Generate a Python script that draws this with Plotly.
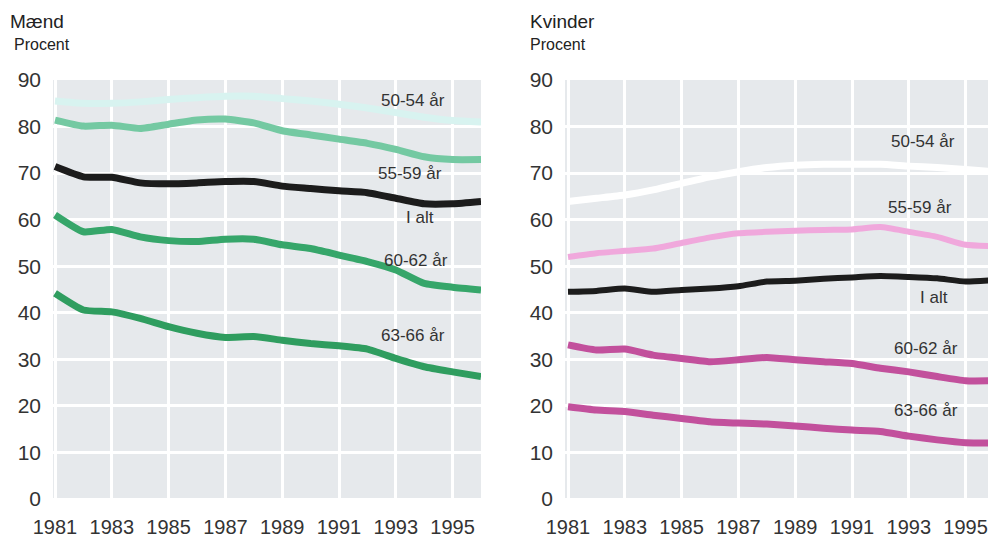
import plotly.graph_objects as go

years = list(range(1981, 1997))

# Mænd (men)
men_50_54 = [85.5, 85.0, 85.0, 85.3, 85.8, 86.2, 86.5, 86.5, 86.0, 85.5, 84.8, 84.0, 83.0, 82.0, 81.3, 81.0]
men_55_59 = [81.4, 80.1, 80.3, 79.6, 80.5, 81.4, 81.6, 80.8, 79.1, 78.2, 77.3, 76.4, 75.1, 73.5, 72.9, 72.9]
men_total = [71.4, 69.2, 69.1, 67.9, 67.7, 67.9, 68.2, 68.2, 67.2, 66.7, 66.2, 65.8, 64.6, 63.4, 63.4, 63.9]
men_60_62 = [61.0, 57.4, 57.9, 56.3, 55.5, 55.3, 55.8, 55.8, 54.6, 53.8, 52.4, 51.0, 49.2, 46.3, 45.5, 44.9]
men_63_66 = [44.2, 40.6, 40.2, 38.8, 37.0, 35.6, 34.7, 34.9, 34.1, 33.4, 32.9, 32.2, 30.2, 28.4, 27.3, 26.3]

# Kvinder (women)
wom_50_54 = [63.9, 64.6, 65.3, 66.4, 67.8, 69.2, 70.3, 71.2, 71.7, 71.9, 71.9, 71.9, 71.5, 71.2, 70.8, 70.3]
wom_55_59 = [52.0, 52.8, 53.3, 53.8, 55.0, 56.2, 57.1, 57.4, 57.6, 57.8, 57.9, 58.4, 57.4, 56.3, 54.6, 54.3]
wom_total = [44.5, 44.7, 45.2, 44.5, 44.9, 45.2, 45.7, 46.7, 46.9, 47.3, 47.6, 47.9, 47.7, 47.4, 46.7, 47.0]
wom_60_62 = [33.1, 32.0, 32.2, 30.9, 30.2, 29.5, 29.9, 30.4, 29.9, 29.5, 29.1, 28.1, 27.3, 26.3, 25.4, 25.4]
wom_63_66 = [19.8, 19.1, 18.8, 18.0, 17.3, 16.6, 16.3, 16.1, 15.7, 15.2, 14.8, 14.5, 13.5, 12.7, 12.1, 12.0]

series_names = ["50-54 år", "55-59 år", "I alt", "60-62 år", "63-66 år"]
x_tick_vals = [1981, 1983, 1985, 1987, 1989, 1991, 1993, 1995]
y_tick_vals = [0, 10, 20, 30, 40, 50, 60, 70, 80, 90]

men_colors = ["#d8f3f0", "#74c9a2", "#1c1c1c", "#36a66a", "#2f9d5f"]
wom_colors = ["#ffffff", "#f0a8dc", "#1c1c1c", "#c2509c", "#c2509c"]
men_widths = [7, 7, 7, 7, 7]
wom_widths = [7, 6, 6, 7, 7]

men_data = [men_50_54, men_55_59, men_total, men_60_62, men_63_66]
wom_data = [wom_50_54, wom_55_59, wom_total, wom_60_62, wom_63_66]

# label anchor positions (data coords)
men_lbl_x = [1993.6, 1993.5, 1993.85, 1993.7, 1993.6]
men_lbl_y = [85.6, 70.0, 60.4, 51.3, 35.2]
wom_lbl_x = [1993.5, 1993.4, 1993.9, 1993.6, 1993.6]
wom_lbl_y = [76.7, 62.7, 43.2, 32.4, 19.1]

W, H = 988, 537


def fx(px):
    return px / W


def fy(py):
    return 1 - py / H


fig = go.Figure()

for name, ys, c, w in zip(series_names, men_data, men_colors, men_widths):
    fig.add_trace(go.Scatter(x=years, y=ys, mode="lines", name=name,
                             line=dict(color=c, width=w, shape="spline", smoothing=0.5),
                             xaxis="x", yaxis="y", showlegend=False, hoverinfo="skip"))
for name, ys, c, w in zip(series_names, wom_data, wom_colors, wom_widths):
    fig.add_trace(go.Scatter(x=years, y=ys, mode="lines", name=name,
                             line=dict(color=c, width=w, shape="spline", smoothing=0.5),
                             xaxis="x2", yaxis="y2", showlegend=False, hoverinfo="skip"))

ydom = [fy(501), fy(80)]
yrange = [-0.43, 90.0]

px_per_year = 28.4
xfont = dict(family="Liberation Sans, Arial, sans-serif", size=20, color="#333333")
yfont = dict(family="Liberation Sans, Arial, sans-serif", size=21, color="#333333")

common_x = dict(tickvals=x_tick_vals, tickfont=xfont, showgrid=True, gridcolor="#ffffff",
                gridwidth=3, zeroline=False, showline=False, ticks="", ticklabelstandoff=12,
                automargin=False)
common_y = dict(tickvals=y_tick_vals, tickfont=yfont, showgrid=True, gridcolor="#ffffff",
                gridwidth=3, zeroline=False, showline=False, ticks="", range=yrange,
                domain=ydom, ticklabelstandoff=11, automargin=False)

fig.update_layout(
    width=W, height=H,
    margin=dict(l=0, r=0, t=0, b=0, autoexpand=False),
    paper_bgcolor="#ffffff",
    plot_bgcolor="#e6e9ec",
    xaxis=dict(domain=[fx(53), fx(481)], range=[1981 - 2 / px_per_year, 1996], anchor="y", **common_x),
    yaxis=dict(anchor="x", **common_y),
    xaxis2=dict(domain=[fx(565), 1.0], range=[1981 - 3 / px_per_year, 1981 + (988 - 568) / px_per_year],
                anchor="y2", **common_x),
    yaxis2=dict(anchor="x2", **common_y),
)

annotations = []
title_font = dict(family="Liberation Sans, Arial, sans-serif", size=19, color="#222222")
sub_font = dict(family="Liberation Sans, Arial, sans-serif", size=16, color="#222222")
annotations.append(dict(text="Mænd", x=fx(8), y=fy(22), xref="paper", yref="paper",
                        xanchor="left", yanchor="middle", showarrow=False, font=title_font))
annotations.append(dict(text="Procent", x=fx(12), y=fy(45), xref="paper", yref="paper",
                        xanchor="left", yanchor="middle", showarrow=False, font=sub_font))
annotations.append(dict(text="Kvinder", x=fx(528), y=fy(22), xref="paper", yref="paper",
                        xanchor="left", yanchor="middle", showarrow=False, font=title_font))
annotations.append(dict(text="Procent", x=fx(528), y=fy(45), xref="paper", yref="paper",
                        xanchor="left", yanchor="middle", showarrow=False, font=sub_font))

lbl_font = dict(family="Liberation Sans, Arial, sans-serif", size=17, color="#333333")
for name, lx, ly in zip(series_names, men_lbl_x, men_lbl_y):
    annotations.append(dict(text=name, x=lx, y=ly, xref="x", yref="y", showarrow=False,
                            xanchor="center", yanchor="middle", font=lbl_font))
for name, lx, ly in zip(series_names, wom_lbl_x, wom_lbl_y):
    annotations.append(dict(text=name, x=lx, y=ly, xref="x2", yref="y2", showarrow=False,
                            xanchor="center", yanchor="middle", font=lbl_font))

fig.update_layout(annotations=annotations)
fig.write_html("out.html", config={"displayModeBar": False},
               post_script="document.body.style.margin='0px';document.body.style.overflow='hidden';")
